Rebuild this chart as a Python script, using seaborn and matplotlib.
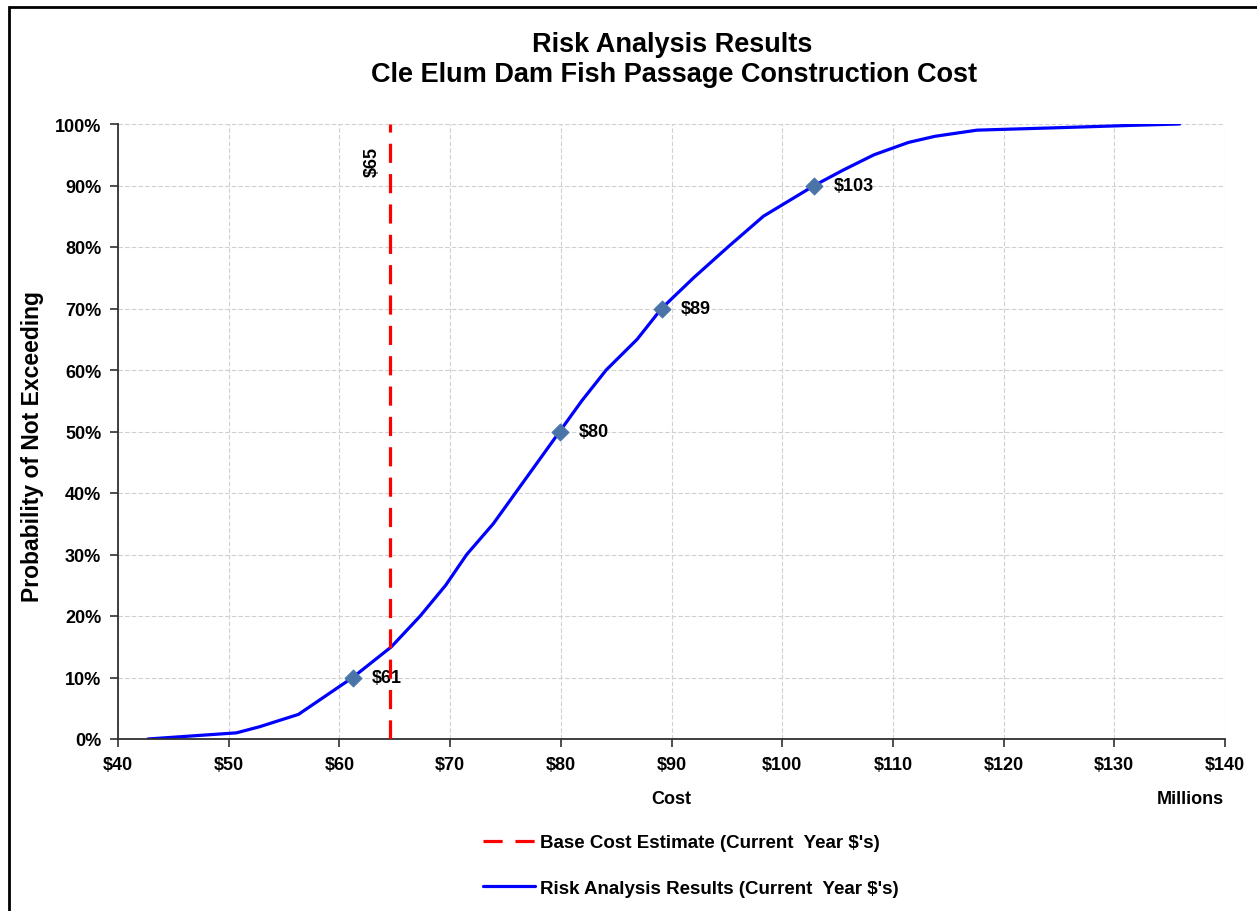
import matplotlib
matplotlib.use("Agg")
import matplotlib.pyplot as plt
import seaborn as sns
import pandas as pd
from matplotlib.patches import Rectangle
from matplotlib.lines import Line2D

# ---- data ----
cost = [42.7, 50.7, 52.8, 56.3, 61.2, 64.7, 67.3, 69.6, 71.5, 73.9, 75.9, 77.9, 79.9,
        81.9, 84.1, 86.9, 89.1, 92.0, 95.1, 98.3, 102.9, 105.5, 108.3, 111.4, 113.8,
        117.6, 125.0, 132.0, 135.9]
prob = [0, 1, 2, 4, 10, 15, 20, 25, 30, 35, 40, 45, 50,
        55, 60, 65, 70, 75, 80, 85, 90, 92.5, 95, 97, 98,
        99, 99.4, 99.8, 100]
marker_cost = [61.2, 79.9, 89.1, 102.9]
marker_prob = [10, 50, 70, 90]
marker_labels = ["$61", "$80", "$89", "$103"]
base_cost = 64.6
base_label = "$65"
x_ticks = [40, 50, 60, 70, 80, 90, 100, 110, 120, 130, 140]
y_ticks = [0, 10, 20, 30, 40, 50, 60, 70, 80, 90, 100]

sns.set_theme(style="white")
plt.rcParams['font.family'] = ['Liberation Sans', 'DejaVu Sans']
plt.rcParams['text.color'] = 'black'
plt.rcParams['axes.labelcolor'] = 'black'
plt.rcParams['xtick.color'] = 'black'
plt.rcParams['ytick.color'] = 'black'

FS = 13

fig = plt.figure(figsize=(12.57, 9.12), dpi=100)
ax = fig.add_axes([118/1257, 1-740/912, (1225-118)/1257, (740-125)/912])

df = pd.DataFrame({"cost": cost, "prob": prob})
sns.lineplot(data=df, x="cost", y="prob", ax=ax, color="#0000FF", linewidth=2.3,
             sort=False, estimator=None)
mdf = pd.DataFrame({"cost": marker_cost, "prob": marker_prob})
sns.scatterplot(data=mdf, x="cost", y="prob", ax=ax, marker="D", s=75,
                color="#4A74A8", edgecolor="#4A74A8", zorder=5)
for c, p, lab in zip(marker_cost, marker_prob, marker_labels):
    ax.annotate(lab, (c, p), xytext=(14, 0), textcoords="offset points",
                va="center", ha="left", fontsize=FS, fontweight="bold")

ax.axvline(base_cost, color="#FF0000", linewidth=2.3, linestyle=(0, (6, 3.5)), zorder=4)
ax.text(63.0, 94, base_label, rotation=90, ha="center", va="center",
        fontsize=FS, fontweight="bold")

ax.set_xlim(40, 140)
ax.set_ylim(0, 100)
ax.set_xticks(x_ticks)
ax.set_yticks(y_ticks)
ax.set_xticklabels([f"${v}" for v in x_ticks], fontsize=FS, fontweight="bold")
ax.set_yticklabels([f"{v}%" for v in y_ticks], fontsize=FS, fontweight="bold")
ax.grid(True, color="#D0D0D0", linestyle=(0, (4, 2)), linewidth=0.8)
ax.set_axisbelow(True)
for s in ["top", "right"]:
    ax.spines[s].set_visible(False)
for s in ["left", "bottom"]:
    ax.spines[s].set_color("#303030")
    ax.spines[s].set_linewidth(1.3)
ax.tick_params(axis="both", direction="out", length=6, width=1.2, color="#303030",
               bottom=True, left=True, pad=6)
ax.set_xlabel("")
ax.set_ylabel("Probability of Not Exceeding", fontsize=16.5, fontweight="bold")
ax.yaxis.set_label_coords((44 - 118) / 1107, (740 - 447) / 615)

fig.text(672/1257, 1-45/912, "Risk Analysis Results", ha="center", va="center",
         fontsize=19.5, fontweight="bold")
fig.text(674/1257, 1-75/912, "Cle Elum Dam Fish Passage Construction Cost", ha="center",
         va="center", fontsize=19.5, fontweight="bold")
fig.text(671/1257, 1-800/912, "Cost", ha="center", va="center", fontsize=FS, fontweight="bold")
fig.text(1190/1257, 1-800/912, "Millions", ha="center", va="center", fontsize=FS, fontweight="bold")

# legend
handles = [Line2D([0], [0], color="#FF0000", linewidth=2.3, linestyle=(0, (6, 4))),
           Line2D([0], [0], color="#0000FF", linewidth=2.3)]
labels = ["Base Cost Estimate (Current  Year $'s)", "Risk Analysis Results (Current  Year $'s)"]
fig.legend(handles, labels, loc="center left", bbox_to_anchor=(474/1257, 1-866.5/912),
           frameon=False, prop={"weight": "bold", "size": 13.5}, borderpad=0,
           handlelength=2.77, handletextpad=0.25, labelspacing=1.5)

# outer frame
fig.patches.append(Rectangle((8.5/1257, -0.05), 1.1, 1-8/912+0.05, transform=fig.transFigure,
                             fill=False, edgecolor="black", linewidth=2.0))

fig.savefig("out.png", dpi=100)
